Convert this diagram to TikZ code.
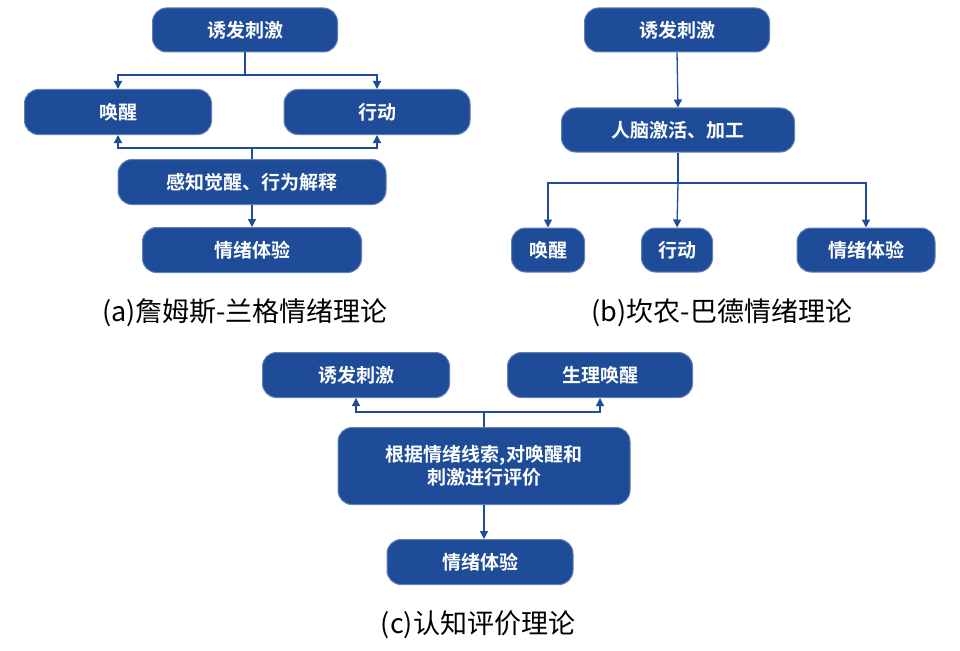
\documentclass[tikz,border=0pt]{standalone}
\usepackage{fontspec}
\setmainfont{Noto Sans CJK SC}
\newfontfamily\cjkb{Noto Sans CJK SC Bold}
\usetikzlibrary{arrows.meta}
\definecolor{boxblue}{HTML}{1F4C98}
\begin{document}
\begin{tikzpicture}[x=1pt,y=-1pt,
  box/.style={fill=boxblue,draw=boxblue!70!white,line width=1pt,rounded corners=14pt,text=white,font=\cjkb\fontsize{19}{23}\selectfont,align=center,inner sep=0pt},
  ln/.style={draw=boxblue,line width=1.3pt},
  arr/.style={ln,-{Triangle[width=8pt,length=8pt]}},
  captxt/.style={font=\fontsize{27}{30}\selectfont,text=black}]
\fill[white] (0,0) rectangle (960,650);
% (a)
\node[box,minimum width=185pt,minimum height=44pt] (a1) at (245,30) {诱发刺激};
\node[box,minimum width=187pt,minimum height=45pt] (a2) at (118,112) {唤醒};
\node[box,minimum width=186pt,minimum height=45pt] (a3) at (377,112) {行动};
\node[box,minimum width=268pt,minimum height=45pt] (a4) at (252,182) {感知觉醒、行为解释};
\node[box,minimum width=219pt,minimum height=45pt] (a5) at (252,250) {情绪体验};
\coordinate (a1j) at (245,75);
\coordinate (a4j) at (252,148);
\draw[ln] (a1.south) -- (a1j);
\draw[arr] (a1j) -| (a2.north);
\draw[arr] (a1j) -| (a3.north);
\draw[ln] (a4.north) -- (a4j);
\draw[arr] (a4j) -| (a2.south);
\draw[arr] (a4j) -| (a3.south);
\draw[arr] (a4.south) -- (a5.north);
\node[captxt] (ca) at (245,313) {(a)詹姆斯-兰格情绪理论};
% (b)
\node[box,minimum width=185pt,minimum height=44pt] (b1) at (677,30) {诱发刺激};
\node[box,minimum width=233pt,minimum height=44pt] (b2) at (678,130) {人脑激活、加工};
\node[box,minimum width=73pt,minimum height=44pt] (b3) at (548,250) {唤醒};
\node[box,minimum width=71pt,minimum height=44pt] (b4) at (677,250) {行动};
\node[box,minimum width=138pt,minimum height=44pt] (b5) at (866,250) {情绪体验};
\coordinate (b2j) at (678,183);
\draw[arr] (b1.south) -- (b2.north);
\draw[ln] (b2.south) -- (b2j);
\draw[arr] (b2j) -| (b3.north);
\draw[arr] (b2j) -- (b4.north);
\draw[arr] (b2j) -| (b5.north);
\node[captxt] (cb) at (722,313) {(b)坎农-巴德情绪理论};
% (c)
\node[box,minimum width=187pt,minimum height=45pt] (c1) at (356,375) {诱发刺激};
\node[box,minimum width=185pt,minimum height=45pt] (c2) at (600,375) {生理唤醒};
\node[box,minimum width=292pt,minimum height=77pt] (c3) at (484,466) {根据情绪线索,对唤醒和\\刺激进行评价};
\node[box,minimum width=186pt,minimum height=45pt] (c4) at (480,562) {情绪体验};
\coordinate (c3j) at (484,412);
\draw[ln] (c3.north) -- (c3j);
\draw[arr] (c3j) -| (c1.south);
\draw[arr] (c3j) -| (c2.south);
\draw[arr] (c3.south) -- (c3.south |- c4.north);
\node[captxt] (cc) at (478,625) {(c)认知评价理论};
\end{tikzpicture}
\end{document}
